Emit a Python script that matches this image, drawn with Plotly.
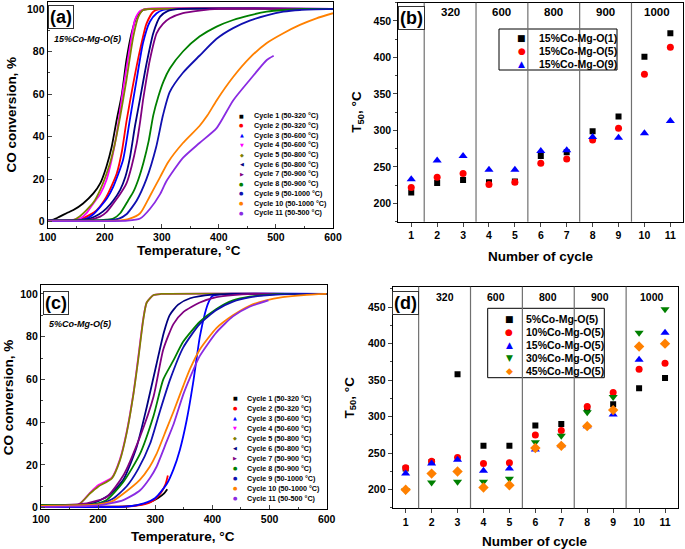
import plotly.graph_objects as go

W, H = 685, 549


def px(x):
    return x / W


def py(y):
    return 1 - y / H


# ---------------- panel (a): 15%Co-Mg-O(5), conversion vs temperature ----------------
a_t1 = [100, 110, 121, 133, 145, 162, 180, 192, 203, 212, 221, 230, 238, 247, 256, 267, 280, 320]
a_y1 = [0.5, 1, 2.4, 4, 5.5, 8.6, 13.3, 18, 26, 35, 48, 60, 76, 88.6, 96.4, 99.5, 100, 100]
a_t2 = [100, 140, 157, 172, 186, 203, 221, 230, 238, 250, 262, 273, 285, 300, 320]
a_y2 = [0.5, 0.6, 1, 3, 5.5, 11.8, 22.7, 33, 47, 65, 81, 93, 98.7, 100, 100]
a_t3 = [100, 150, 168, 180, 192, 204, 215, 232, 244, 256, 267, 279, 291, 302, 320, 600]
a_y3 = [0.5, 0.8, 1.5, 3.5, 7, 11, 16.5, 29, 48, 67, 84, 94, 98, 99.5, 100, 100]
a_t4 = [100, 140, 157, 168, 180, 192, 203, 212, 221, 232, 244, 253, 262, 273, 600]
a_y4 = [0.5, 0.8, 1.5, 4, 8.6, 13, 19.6, 29, 41.5, 62, 82, 95, 99, 100, 100]
a_t5 = [100, 145, 156, 168, 180, 192, 209, 218, 227, 238, 250, 259, 267, 280, 600]
a_y5 = [0.5, 0.8, 2.5, 5.5, 9, 15, 27.4, 37, 49.4, 66.6, 87, 96.4, 99.5, 100, 100]
a_t6 = [100, 160, 174, 190, 203, 215, 227, 236, 244, 253, 262, 273, 285, 297, 310, 330, 600]
a_y6 = [0.5, 0.8, 1.5, 3.5, 6.3, 10, 15, 21, 30, 45, 58, 74, 88.6, 96.4, 99, 100, 100]
a_t7 = [100, 170, 192, 203, 215, 227, 238, 247, 256, 262, 267, 273, 279, 291, 302, 314, 337, 366, 400, 600]
a_y7 = [0.5, 0.8, 2.4, 4.5, 8.6, 13, 18, 26, 36.8, 47, 57, 67, 76, 88.6, 93, 95.6, 98, 99.2, 100, 100]
a_t8 = [100, 190, 203, 215, 227, 241, 250, 259, 268, 277, 285, 294, 303, 314, 337, 366, 396, 425, 454, 484, 513, 550, 600]
a_y8 = [0.5, 0.8, 1, 1.5, 4, 10, 14, 20, 28, 38, 50, 59, 66, 72, 80, 87, 91.7, 94.8, 97, 98.7, 99.5, 100, 100]
a_t9 = [100, 210, 225, 238, 256, 273, 290, 302, 314, 337, 366, 396, 425, 454, 484, 513, 542, 600]
a_y9 = [0.5, 0.8, 1.5, 3.5, 10, 20, 35, 50, 61, 70, 78, 86, 91, 94.5, 97, 98.7, 99.5, 100]
a_t10 = [100, 220, 244, 262, 279, 297, 311, 337, 366, 380, 396, 425, 454, 484, 513, 542, 571, 600]
a_y10 = [0.4, 0.5, 1.5, 4, 12, 21, 28, 37, 45, 50, 57, 68, 77, 84, 88.6, 92.5, 95.6, 98]
a_t11 = [100, 240, 262, 279, 297, 308, 337, 366, 396, 425, 454, 484, 496]
a_y11 = [0.3, 0.5, 1.5, 6, 13, 19, 30, 37, 44, 57, 66.6, 76, 78]

# ---------------- panel (c): 5%Co-Mg-O(5), conversion vs temperature ----------------
c_t1 = [100, 250, 270, 290, 305, 315, 321]
c_y1 = [0.5, 0.6, 1.2, 2.5, 4.5, 6.5, 8.6]
c_t2 = [100, 250, 270, 290, 300, 310, 318, 322]
c_y2 = [0.3, 0.5, 1, 2.3, 4, 7, 11, 15]
c_t3 = [100, 250, 280, 300, 320, 332, 343, 355, 366, 378, 387, 393, 400, 420, 600]
c_y3 = [0.3, 0.5, 2, 4.5, 11, 18, 27, 41, 58, 80, 91, 96, 99, 100, 100]
c_t4 = [100, 165, 186, 200, 224, 238, 250, 262, 270, 279, 285, 297, 310, 600]
c_y4 = [1.2, 1.3, 7, 10.5, 14, 22.5, 35.5, 54, 70, 88.5, 96, 99.5, 100, 100]
c_t5 = [100, 165, 186, 200, 224, 238, 250, 262, 270, 279, 285, 297, 310, 600]
c_y5 = [1.2, 1.3, 6.7, 9.8, 13.7, 22, 35, 53.5, 69, 88, 96, 99.5, 100, 100]
c_t6 = [100, 190, 220, 244, 267, 285, 302, 315, 325, 340, 361, 400, 436, 600]
c_y6 = [1, 2, 6, 13, 28, 47, 67, 82, 90, 95, 98, 99.7, 100, 100]
c_t7 = [100, 180, 215, 244, 273, 297, 314, 332, 349, 378, 407, 436, 470, 600]
c_y7 = [1, 2, 5, 15, 33, 52, 74, 86, 91.5, 96, 98.5, 99.5, 100, 100]
c_t8 = [100, 190, 215, 244, 273, 297, 314, 332, 349, 378, 407, 436, 465, 494, 520, 600]
c_y8 = [1.2, 1.5, 3.6, 12, 25, 43, 60, 69, 77.7, 87, 93, 97, 98.8, 99.5, 100, 100]
c_t9 = [100, 200, 225, 250, 270, 291, 308, 326, 349, 378, 407, 436, 465, 494, 550, 600]
c_y9 = [0.8, 1.5, 4, 10, 18, 30, 45, 60, 75, 86, 92.5, 96.4, 98.4, 99.3, 100, 100]
c_t10 = [100, 200, 225, 244, 273, 290, 302, 320, 332, 349, 361, 378, 407, 436, 465, 494, 523, 560, 600]
c_y10 = [0.8, 1.5, 3, 6.5, 13, 19, 25, 37, 45, 57, 65, 74, 84, 90, 94.5, 97, 98.5, 99.5, 100]
c_t11 = [100, 200, 244, 273, 291, 302, 320, 332, 349, 361, 378, 407, 436, 465, 498]
c_y11 = [0.3, 1, 3.5, 8, 14, 19, 31, 39, 53, 61, 71, 82, 89.5, 94, 97]

cycle_labels = [
    "Cycle 1 (50-320 °C)", "Cycle 2 (50-320 °C)", "Cycle 3 (50-600 °C)",
    "Cycle 4 (50-600 °C)", "Cycle 5 (50-800 °C)", "Cycle 6 (50-800 °C)",
    "Cycle 7 (50-900 °C)", "Cycle 8 (50-900 °C)", "Cycle 9 (50-1000 °C)",
    "Cycle 10 (50-1000 °C)", "Cycle 11 (50-500 °C)",
]
cycle_colors = ["#000000", "#FF0000", "#0000FF", "#FF00FF", "#808000", "#000080",
                "#800080", "#008000", "#1010B0", "#FF8000", "#8A2BE2"]
cycle_glyphs = ["■", "●", "▲", "▼", "◆", "◀", "▶", "●", "●", "●", "●"]

# ---------------- panel (b): T50 of 15%Co-Mg-O(x) ----------------
cycles = [1, 2, 3, 4, 5, 6, 7, 8, 9, 10, 11]
b_co1 = [215, 228, 232, 229, 230, 265, 270, 299, 319, 401, 433]
b_co5 = [222, 236, 241, 226, 229, 255, 261, 287, 303, 377, 414]
b_co9 = [233, 259, 265, 246, 246, 272, 273, 291, 290, 296, 313]

# ---------------- panel (d): T50 of x%Co-Mg-O(5) ----------------
d_5 = [229, 238, 358, 260, 260, 288, 290, 311, 317, 339, 353]
d_10 = [230, 239, 244, 236, 237, 275, 281, 314, 333, 365, 373]
d_15 = [222, 236, 241, 226, 229, 255, 261, 287, 303, 378, 415]
d_30 = [199, 210, 211, 211, 215, 265, 274, 306, 327, 415, 447]
d_45 = [200, 222, 225, 203, 206, 257, 260, 287, 309, 396, 400]

separators = [1.5, 3.5, 5.5, 7.5, 9.5]
regime_pos = [2.5, 4.5, 6.5, 8.5, 10.5]
regime_labels = ["320", "600", "800", "900", "1000"]

FONT = "Liberation Sans, Arial, sans-serif"
GLYPH_FONT = "DejaVu Sans"

fig = go.Figure()

a_curves = [(a_t1, a_y1), (a_t2, a_y2), (a_t3, a_y3), (a_t4, a_y4), (a_t5, a_y5), (a_t6, a_y6),
            (a_t7, a_y7), (a_t8, a_y8), (a_t9, a_y9), (a_t10, a_y10), (a_t11, a_y11)]
c_curves = [(c_t1, c_y1), (c_t2, c_y2), (c_t3, c_y3), (c_t4, c_y4), (c_t5, c_y5), (c_t6, c_y6),
            (c_t7, c_y7), (c_t8, c_y8), (c_t9, c_y9), (c_t10, c_y10), (c_t11, c_y11)]

for i, (t, y) in enumerate(a_curves):
    fig.add_trace(go.Scatter(x=t, y=y, mode="lines", xaxis="x", yaxis="y",
                             line=dict(color=cycle_colors[i], width=1.8, shape="spline", smoothing=0.6),
                             showlegend=False))
for i, (t, y) in enumerate(c_curves):
    fig.add_trace(go.Scatter(x=t, y=y, mode="lines", xaxis="x3", yaxis="y3",
                             line=dict(color=cycle_colors[i], width=1.8, shape="spline", smoothing=0.6),
                             showlegend=False))

# ---------------- T50 scatter panels ----------------
b_series = [
    ("15%Co-Mg-O(1)", b_co1, "square", "#000000", 6, "■"),
    ("15%Co-Mg-O(5)", b_co5, "circle", "#FF0000", 7, "●"),
    ("15%Co-Mg-O(9)", b_co9, "triangle-up", "#0000FF", 8, "▲"),
]
d_series = [
    ("5%Co-Mg-O(5)", d_5, "square", "#000000", 6, "■"),
    ("10%Co-Mg-O(5)", d_10, "circle", "#FF0000", 7, "●"),
    ("15%Co-Mg-O(5)", d_15, "triangle-up", "#0000FF", 8, "▲"),
    ("30%Co-Mg-O(5)", d_30, "triangle-down", "#008000", 8, "▼"),
    ("45%Co-Mg-O(5)", d_45, "diamond", "#FF8000", 8, "◆"),
]
for name, vals, sym, col, sz, _ in b_series:
    fig.add_trace(go.Scatter(x=cycles, y=vals, mode="markers", xaxis="x2", yaxis="y2", name=name,
                             marker=dict(symbol=sym, color=col, size=sz), showlegend=False))
for name, vals, sym, col, sz, _ in d_series:
    fig.add_trace(go.Scatter(x=cycles, y=vals, mode="markers", xaxis="x4", yaxis="y4", name=name,
                             marker=dict(symbol=sym, color=col, size=sz), showlegend=False))

# ---------------- axes ----------------
tickfont = dict(family=FONT, size=10.5, color="black", weight="bold")
common = dict(showline=True, mirror=True, linecolor="black", linewidth=1.2, showgrid=False,
              zeroline=False, tickfont=tickfont, automargin=False)


def temp_axis(domain, anchor):
    return dict(domain=domain, anchor=anchor, range=[100, 600], dtick=100, ticks="inside", ticklen=4,
                minor=dict(ticks="inside", ticklen=2, dtick=50), **common)


def conv_axis(domain, anchor, rng):
    return dict(domain=domain, anchor=anchor, range=rng, tickvals=[0, 20, 40, 60, 80, 100], ticks="inside",
                ticklen=4, minor=dict(ticks="inside", ticklen=2, dtick=10), **common)


def cycle_axis(domain, anchor):
    return dict(domain=domain, anchor=anchor, range=[0.5, 11.5], tickvals=cycles, ticks="outside",
                ticklen=4, **common)


def t50_axis(domain, anchor, rng):
    return dict(domain=domain, anchor=anchor, range=rng, tickvals=[200, 250, 300, 350, 400, 450],
                ticks="outside", ticklen=4, minor=dict(ticks="outside", ticklen=2, dtick=25), **common)


fig.update_layout(
    xaxis=temp_axis([px(47.7), px(333)], "y"),
    yaxis=conv_axis([py(227.7), py(1.7)], "x", [-2.8, 103.4]),
    xaxis2=cycle_axis([px(398.3), px(683.3)], "y2"),
    yaxis2=t50_axis([py(221.7), py(2.7)], "x2", [175, 475]),
    xaxis3=temp_axis([px(41), px(326.7)], "y3"),
    yaxis3=conv_axis([py(509.3), py(285)], "x3", [-0.8, 104.2]),
    xaxis4=cycle_axis([px(392.7), px(678)], "y4"),
    yaxis4=t50_axis([py(508.3), py(286.7)], "x4", [174.5, 478]),
)

shapes = []
annotations = []


def note(text, x, y, font, xref="paper", xanchor="center", **kw):
    annotations.append(dict(text=text, xref=xref, yref="paper", x=x, y=y, xanchor=xanchor,
                            yanchor="middle", showarrow=False, font=font, **kw))


# regime separators and labels
for xref, yref, ylab, fs in [("x2", "y2", 12, 11.5), ("x4", "y4", 297, 10.5)]:
    for s in separators:
        shapes.append(dict(type="line", xref=xref, yref=yref + " domain", x0=s, x1=s, y0=0, y1=1,
                           line=dict(color="#707070", width=1.2)))
    for pos, lab in zip(regime_pos, regime_labels):
        note(lab, pos, py(ylab), dict(family=FONT, size=fs, color="black", weight="bold"), xref=xref)

# panel tags
for tag, cx, cy in [("(a)", 60.5, 16.7), ("(b)", 411.8, 17.8), ("(c)", 56, 303), ("(d)", 405.5, 303)]:
    note(tag, px(cx), py(cy), dict(family=FONT, size=18, color="black", weight="bold"),
         bordercolor="#333333", borderwidth=1, borderpad=1, bgcolor="white")

# sample names
for txt, lx, ly in [("15%Co-Mg-O(5)", 52, 39), ("5%Co-Mg-O(5)", 46.7, 324)]:
    note(txt, px(lx), py(ly), dict(family=FONT, size=9, color="black", style="italic", weight="bold"),
         xanchor="left")

# cycle legends for (a) and (c)
for mx, tx, y0, step in [(241.7, 252.3, 115.7, 9.7), (235, 245, 398.3, 10)]:
    for i, lab in enumerate(cycle_labels):
        yy = py(y0 + i * step)
        note(cycle_glyphs[i], px(mx), yy, dict(family=GLYPH_FONT, size=5, color=cycle_colors[i]))
        note(lab, px(tx), yy, dict(family=FONT, size=7.2, color="black", weight="bold"), xanchor="left")

# T50 legends for (b) and (d)
for series, box, mx, tx, y0, step in [
    (b_series, (499, 617, 29, 70), 521.7, 536.7, 37.7, 13.3),
    (d_series, (487.7, 604.3, 308.3, 377.7), 509.3, 524.3, 319.3, 13),
]:
    x0, x1, y_top, y_bot = box
    shapes.append(dict(type="rect", xref="paper", yref="paper", x0=px(x0), x1=px(x1), y0=py(y_bot),
                       y1=py(y_top), line=dict(color="black", width=1), fillcolor="white", layer="below"))
    for i, (name, _, _, col, _, glyph) in enumerate(series):
        yy = py(y0 + i * step)
        note(glyph, px(mx), yy, dict(family=GLYPH_FONT, size=9, color=col))
        note(name, px(tx), yy, dict(family=FONT, size=10.5, color="black", weight="bold"), xanchor="left")

# axis titles
title_font = dict(family=FONT, size=13.5, color="black", weight="bold")
for txt, cx, cy, ang in [
    ("CO conversion, %", 11.7, 114.7, -90),
    ("Temperature, °C", 189.5, 250.7, 0),
    ("T<sub>50</sub>, °C", 356.7, 112, -90),
    ("Number of cycle", 540.5, 256, 0),
    ("CO conversion, %", 8.3, 397, -90),
    ("Temperature, °C", 183, 536.7, 0),
    ("T<sub>50</sub>, °C", 350, 397.5, -90),
    ("Number of cycle", 535, 541.7, 0),
]:
    note(txt, px(cx), py(cy), title_font, textangle=ang)

fig.update_layout(
    width=W, height=H, autosize=False,
    margin=dict(l=0, r=0, t=0, b=0),
    paper_bgcolor="white", plot_bgcolor="white",
    font=dict(family=FONT, size=11, color="black"),
    shapes=shapes, annotations=annotations,
    showlegend=False,
)

# the page body has a default 8px margin; drop it so the figure sits at the window origin
fig.write_html("out.html", config={"displayModeBar": False},
               post_script="document.body.style.margin='0';")
